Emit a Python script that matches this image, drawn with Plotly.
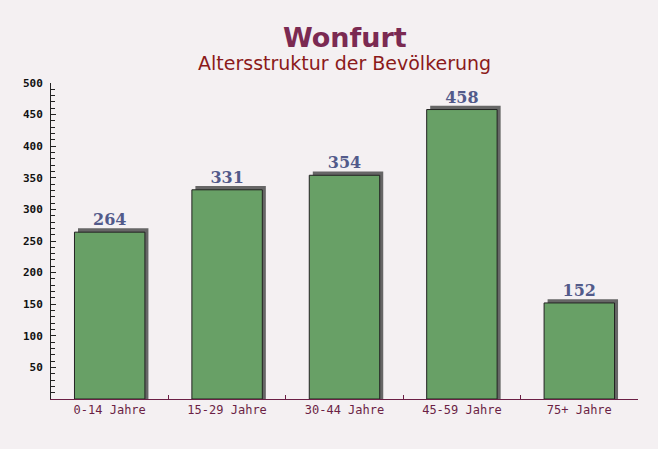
import plotly.graph_objects as go

categories = ["0-14 Jahre", "15-29 Jahre", "30-44 Jahre", "45-59 Jahre", "75+ Jahre"]
values = [264, 331, 354, 458, 152]
y_ticks = [50, 100, 150, 200, 250, 300, 350, 400, 450, 500]

title = "Wonfurt"
subtitle = "Altersstruktur der Bevölkerung"

bar_width = 0.6
shadow_shift = 0.03
shadow_extra = 6

fig = go.Figure()
fig.add_trace(go.Bar(
    x=categories, y=[v + shadow_extra for v in values],
    width=bar_width, offset=-bar_width / 2 + shadow_shift,
    marker=dict(color="#666666", line=dict(width=0)),
    hoverinfo="skip", showlegend=False,
))
fig.add_trace(go.Bar(
    x=categories, y=values,
    width=bar_width, offset=-bar_width / 2,
    marker=dict(color="rgb(104,160,102)", line=dict(color="#222222", width=1)),
    text=[str(v) for v in values], textposition="outside", cliponaxis=False,
    textfont=dict(family="DejaVu Serif", size=16, color="#525a8a", weight="bold"),
    showlegend=False,
))

plot_top = 83
plot_bottom = 50
plot_h = 449 - plot_top - plot_bottom

fig.update_layout(
    width=658, height=449,
    margin=dict(l=51, r=20, t=plot_top, b=plot_bottom),
    paper_bgcolor="#f4f0f2", plot_bgcolor="rgba(0,0,0,0)",
    barmode="overlay",
    annotations=[
        dict(text=f"<b>{title}</b>", x=0.5, y=1 + (plot_top - 38) / plot_h,
             xref="paper", yref="paper", yanchor="middle", showarrow=False,
             font=dict(family="DejaVu Sans", size=27, color="#7b2a52")),
        dict(text=subtitle, x=0.5, y=1 + (plot_top - 63) / plot_h,
             xref="paper", yref="paper", yanchor="middle", showarrow=False,
             font=dict(family="DejaVu Sans", size=19, color="#8b1a1a")),
    ],
)

fig.update_xaxes(
    showgrid=False, showline=True, linecolor="#6b1f45", linewidth=1,
    ticks="inside", tickson="boundaries", ticklen=4, tickcolor="#6b1f45",
    tickfont=dict(family="DejaVu Sans Mono", size=12, color="#6b1f45"),
)
fig.update_yaxes(
    range=[0, 500], showgrid=False, showline=True, linecolor="#222222", linewidth=1,
    tickvals=y_ticks, ticks="inside", ticklen=5, tickcolor="#222222",
    ticklabelstandoff=5,
    tickfont=dict(family="DejaVu Sans Mono", size=11, color="#111111", weight="bold"),
    minor=dict(dtick=10, ticks="inside", ticklen=4, tickcolor="#222222"),
    zeroline=False,
)

fig.write_html("out.html", config={"displayModeBar": False},
               post_script="document.body.style.margin='0';")
